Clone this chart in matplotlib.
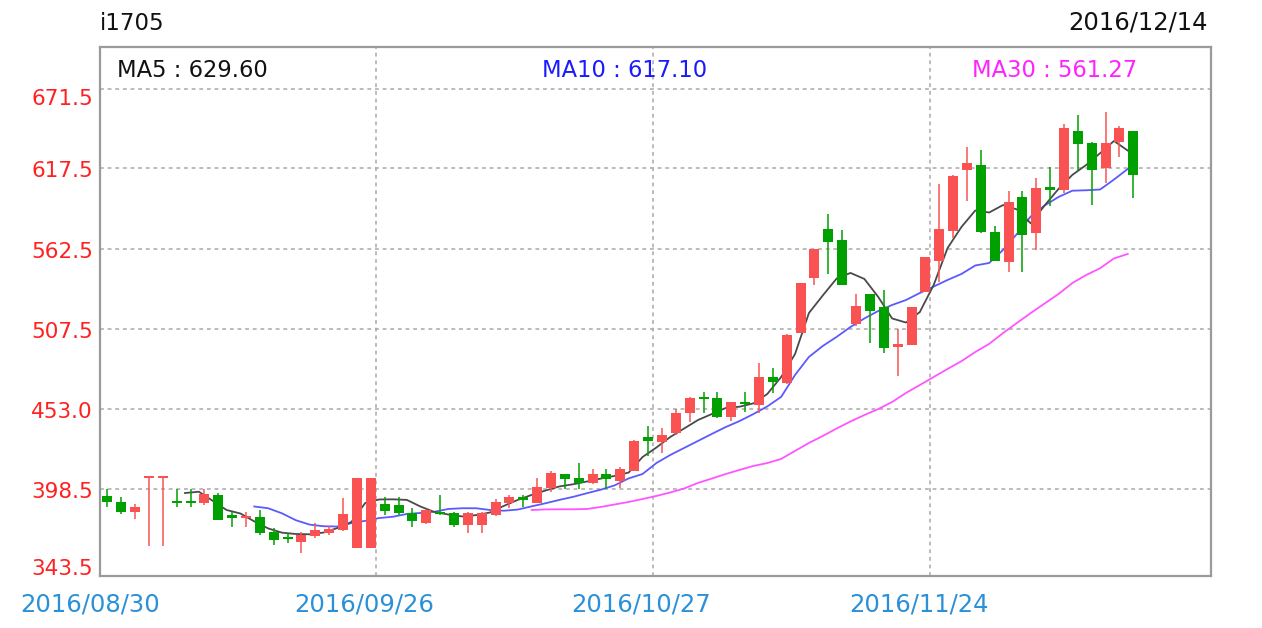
import matplotlib
matplotlib.use("Agg")
import matplotlib.pyplot as plt
import matplotlib.transforms as mtransforms
import numpy as np

# ---------------- data ----------------
symbol = "i1705"
last_date = "2016/12/14"
date_labels = ["2016/08/30", "2016/09/26", "2016/10/27", "2016/11/24"]
date_label_index = [0, 20, 40, 60]

open_ = [393.8, 389.7, 382.9, 406.7, 406.7, 390.0, 390.0, 388.6, 394.3, 380.3,
         378.9, 379.4, 369.2, 365.8, 362.4, 366.3, 368.1, 370.4, 357.8, 357.8,
         387.9, 387.4, 382.2, 374.9, 382.3, 382.2, 373.8, 373.8, 380.6, 389.0,
         392.2, 389.0, 398.9, 408.4, 406.1, 402.3, 408.4, 404.0, 410.9, 434.1,
         430.5, 436.4, 450.5, 461.4, 460.3, 447.4, 458.0, 455.8, 475.1, 470.6,
         505.2, 542.3, 575.8, 568.5, 510.9, 531.4, 522.5, 495.6, 496.8, 533.2,
         554.4, 574.7, 616.4, 619.8, 574.2, 553.7, 597.7, 573.5, 604.9, 602.7,
         643.2, 634.6, 617.5, 635.7, 643.2]
high = [398.4, 392.7, 388.1, 406.7, 406.7, 398.4, 398.4, 398.4, 395.6, 382.9,
        382.9, 384.0, 371.7, 368.3, 369.2, 374.9, 373.3, 391.9, 406.1, 406.1,
        392.7, 392.7, 385.2, 384.7, 394.3, 382.9, 382.9, 382.9, 391.2, 394.3,
        394.3, 405.7, 410.9, 408.4, 416.3, 411.8, 411.8, 413.2, 431.5, 441.4,
        439.8, 452.8, 461.4, 464.9, 464.9, 458.0, 464.9, 484.3, 480.8, 504.0,
        539.2, 562.5, 586.3, 575.4, 531.4, 531.4, 534.4, 507.5, 522.8, 557.0,
        606.6, 612.8, 631.9, 630.0, 578.1, 602.2, 602.2, 610.7, 618.2, 647.8,
        653.9, 635.7, 656.2, 646.4, 643.2]
low = [386.3, 381.3, 377.7, 359.6, 359.6, 386.3, 386.3, 387.4, 377.0, 372.6,
       372.6, 366.9, 360.1, 361.5, 354.4, 365.1, 366.9, 369.7, 357.8, 357.8,
       380.6, 380.6, 372.6, 374.2, 380.3, 372.6, 368.1, 368.1, 379.9, 385.2,
       386.3, 388.6, 396.5, 398.1, 398.1, 401.6, 398.1, 398.9, 410.5, 420.9,
       423.0, 435.3, 444.4, 450.5, 446.7, 445.0, 451.2, 450.1, 464.2, 470.0,
       505.0, 537.8, 545.1, 537.5, 509.8, 498.3, 491.1, 475.6, 496.5, 533.0,
       540.0, 570.1, 595.2, 573.1, 554.0, 546.9, 546.4, 561.7, 591.8, 600.4,
       616.4, 592.4, 607.3, 625.4, 597.0]
close = [389.3, 382.9, 386.3, 406.7, 406.7, 389.0, 389.0, 394.7, 377.2, 378.9,
         379.6, 368.1, 363.5, 364.2, 366.9, 370.4, 370.8, 381.1, 406.1, 406.1,
         383.3, 382.2, 376.2, 384.0, 381.3, 373.8, 382.2, 382.2, 389.7, 392.7,
         391.5, 399.9, 409.1, 405.0, 402.3, 408.6, 405.0, 411.8, 431.2, 431.2,
         435.3, 450.1, 460.3, 459.7, 447.8, 457.6, 456.5, 475.1, 471.7, 503.6,
         538.9, 562.2, 567.3, 537.8, 523.6, 520.2, 494.5, 497.2, 522.5, 556.7,
         575.8, 612.5, 621.3, 574.2, 554.2, 594.7, 571.9, 603.8, 602.7, 644.9,
         633.9, 616.4, 634.6, 644.9, 612.9]

# moving averages as drawn (MA5 from candle 6, MA10 from 11, MA30 from 31)
ma5 = [395.6, 396.5, 390.3, 384.0, 381.6, 376.2, 371.4, 368.5, 367.6, 367.4,
       368.6, 371.7, 375.8, 388.8, 391.2, 391.3, 390.9, 386.3, 382.6, 380.9,
       379.6, 380.5, 382.3, 386.8, 390.9, 394.3, 397.3, 400.1, 401.6, 403.5,
       405.5, 407.3, 409.6, 420.2, 426.7, 433.9, 439.7, 445.5, 449.6, 453.7,
       454.6, 456.9, 463.3, 474.9, 490.6, 518.6, 530.6, 542.2, 546.0, 541.9,
       529.6, 514.9, 512.1, 519.3, 537.8, 563.0, 577.4, 588.7, 587.3, 592.4,
       589.4, 579.9, 592.1, 603.4, 613.0, 619.8, 627.8, 636.2, 629.6]
ma10 = [386.4, 385.2, 381.7, 377.0, 374.0, 372.9, 372.7, 375.0, 376.6, 378.5,
        379.4, 381.3, 382.0, 382.8, 384.7, 385.2, 385.2, 384.0, 383.5, 384.3,
        386.5, 388.6, 390.9, 393.0, 395.5, 397.9, 400.9, 405.6, 408.6, 416.1,
        421.6, 426.4, 431.2, 436.0, 440.7, 444.8, 449.6, 454.8, 461.3, 476.3,
        488.6, 496.1, 502.3, 509.1, 514.9, 520.0, 524.1, 527.5, 532.3, 536.7,
        541.2, 545.3, 551.1, 552.8, 561.7, 572.6, 584.6, 592.1, 597.9, 602.2,
        602.5, 603.0, 609.8, 617.1]
ma30 = [384.0, 384.4, 384.5, 384.5, 384.7, 386.1, 387.8, 389.5, 391.5, 393.6,
        396.0, 398.7, 402.5, 405.5, 408.6, 411.4, 414.1, 416.1, 418.9, 424.4,
        429.8, 434.6, 439.7, 444.5, 448.9, 453.0, 457.8, 464.0, 469.4, 474.9,
        480.4, 485.7, 492.0, 497.5, 504.9, 511.8, 518.6, 525.1, 531.6, 539.1,
        544.6, 549.2, 555.9, 559.0]
ma_labels = ["MA5 : 629.60", "MA10 : 617.10", "MA30 : 561.27"]

y_ticks = [343.5, 398.5, 453.0, 507.5, 562.5, 617.5, 671.5]
y_tick_labels = ["343.5", "398.5", "453.0", "507.5", "562.5", "617.5", "671.5"]

# ---------------- styling ----------------
W, H = 1262, 628
RED = "#fa5252"
GREEN = "#00a000"
C_MA5 = "#4a4a4a"
C_MA10 = "#5a5aff"
C_MA30 = "#ff55ff"
GRID = "#a8a8a8"
DATE_C = "#2a90d8"
FONT = "DejaVu Sans"

plt.rcParams['font.family'] = [FONT]
fig = plt.figure(figsize=(W / 100, H / 100), dpi=100)
fig.patch.set_facecolor("white")

ax_l, ax_r, ax_t, ax_b = 100, 1211, 47, 576
ax = fig.add_axes([ax_l / W, 1 - ax_b / H, (ax_r - ax_l) / W, (ax_b - ax_t) / H])

n = len(close)
x = np.arange(n)
ax.set_xlim(-0.53, 79.6)
ax.set_ylim(338.9, 700.4)

# grid
for yv in y_ticks[1:]:
    ax.axhline(yv, color=GRID, lw=1.1, ls=(0, (2.5, 2.5)), zorder=1)
grid_x = [i - 0.65 for i in date_label_index[1:]]
for gx in grid_x:
    ax.axvline(gx, color=GRID, lw=1.1, ls=(0, (2.5, 2.5)), zorder=1)

# moving averages (drawn slightly left of candle centres, behind candles)
ma_shift = -0.4
ax.plot(np.arange(n - len(ma30), n) + ma_shift, ma30, color=C_MA30, lw=1.3, zorder=2)
ax.plot(np.arange(n - len(ma10), n) + ma_shift, ma10, color=C_MA10, lw=1.3, zorder=2)
ax.plot(np.arange(n - len(ma5), n) + ma_shift, ma5, color=C_MA5, lw=1.3, zorder=2)

# candles
o = np.array(open_); c = np.array(close); hi = np.array(high); lo = np.array(low)
up = c >= o
colors = np.where(up, RED, GREEN)
ax.vlines(x, lo, hi, colors=colors, lw=1.1, zorder=3)
bottom = np.minimum(o, c)
height = np.maximum(np.abs(c - o), 1.5)
bottom = np.where(np.abs(c - o) < 1.5, (o + c) / 2 - 0.75, bottom)
ax.bar(x, height, bottom=bottom, width=0.72, color=colors, linewidth=0, zorder=4)

# frame
for s in ax.spines.values():
    s.set_color("#9a9a9a")
    s.set_linewidth(1.6)
ax.set_xticks([])
ax.set_yticks([])

# y labels (drawn as text so each can be nudged like the reference)
ylab_tr = mtransforms.blended_transform_factory(ax.transAxes, ax.transData)
for k, (yv, lab) in enumerate(zip(y_ticks, y_tick_labels)):
    if k == len(y_ticks) - 1:
        va, dy = "top", 0
    elif k == 0:
        va, dy = "center", 0
    else:
        va, dy = "center", -3
    off = mtransforms.ScaledTranslation(0, dy / 100, fig.dpi_scale_trans)
    ax.text(-0.0065, yv, lab, transform=ylab_tr + off, ha="right", va=va,
            color="#ff2020", fontsize=15.5, clip_on=False)

# date labels
def fx(px):
    return px / W
def fy(py):
    return 1 - py / H

DFS = 17.5
ax.text(-1.25, -0.053, date_labels[0], transform=ax.get_xaxis_transform(),
        ha="center", va="center", color=DATE_C, fontsize=DFS, clip_on=False)
for lab, gx in zip(date_labels[1:], grid_x):
    ax.text(gx - 0.83, -0.053, lab, transform=ax.get_xaxis_transform(),
            ha="center", va="center", color=DATE_C, fontsize=DFS, clip_on=False)

# header texts
fig.text(fx(100), fy(23), symbol, ha="left", va="center", fontsize=16.5, color="#111111")
fig.text(fx(1208), fy(23), last_date, ha="right", va="center", fontsize=DFS, color="#111111")
fig.text(fx(117), fy(70.5), ma_labels[0], ha="left", va="center", fontsize=16.3, color="#111111")
fig.text(fx(624.5), fy(70.5), ma_labels[1], ha="center", va="center", fontsize=16.3, color="#1a1aff")
fig.text(fx(1137), fy(70.5), ma_labels[2], ha="right", va="center", fontsize=16.3, color="#ff22ff")

fig.savefig("out.png", dpi=100, facecolor="white")
